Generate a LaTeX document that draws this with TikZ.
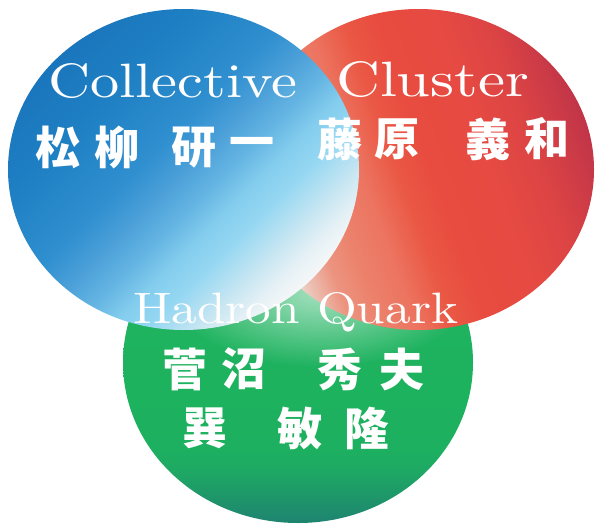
\documentclass[tikz,border=0pt]{standalone}
\usepackage{fontspec}
\usepackage{graphicx}
\usetikzlibrary{fadings}
\newfontfamily\cjk{Noto Sans CJK JP}
% blue colours
\definecolor{b1}{HTML}{1A76BC}
\definecolor{b2}{HTML}{1F80C4}
\definecolor{b3}{HTML}{2F8FCF}
\definecolor{b4}{HTML}{4A9FD8}
\definecolor{b5}{HTML}{66B6E3}
\definecolor{b6}{HTML}{84CDEE}
\definecolor{b7}{HTML}{95D7F2}
\definecolor{b8}{HTML}{C4E5F2}
\definecolor{b9}{HTML}{E6F1F5}
\definecolor{b10}{HTML}{F5F7F8}
% red colours
\definecolor{r1}{HTML}{F2E4DE}
\definecolor{r2}{HTML}{ECD0C6}
\definecolor{r3}{HTML}{EC9480}
\definecolor{r4}{HTML}{EC826C}
\definecolor{r5}{HTML}{EC7460}
\definecolor{r6}{HTML}{EA5844}
\definecolor{r7}{HTML}{E84B3F}
\definecolor{r8}{HTML}{E64A42}
\definecolor{r9}{HTML}{DC4444}
\definecolor{r10}{HTML}{C23548}
% green colours
\definecolor{g1}{HTML}{1E8470}
\definecolor{g2}{HTML}{1E9A68}
\definecolor{g3}{HTML}{1EA864}
\definecolor{g4}{HTML}{1DB060}
\definecolor{g5}{HTML}{1DB25E}
\definecolor{g6}{HTML}{22B462}
\pgfdeclarehorizontalshading{blueS}{100bp}{color(0bp)=(b1); color(25bp)=(b1); color(35bp)=(b2); color(45bp)=(b3); color(50bp)=(b4); color(55bp)=(b5); color(59bp)=(b6); color(63bp)=(b7); color(68bp)=(b8); color(72bp)=(b9); color(75bp)=(b10); color(100bp)=(b10)}
\pgfdeclarehorizontalshading{redS}{100bp}{color(0bp)=(r1); color(25bp)=(r1); color(28bp)=(r2); color(33bp)=(r3); color(37bp)=(r4); color(42bp)=(r5); color(47bp)=(r6); color(52bp)=(r7); color(60bp)=(r8); color(67bp)=(r9); color(75bp)=(r10); color(100bp)=(r10)}
\pgfdeclareverticalshading{greenS}{100bp}{color(0bp)=(g1); color(25bp)=(g1); color(30bp)=(g2); color(33bp)=(g3); color(36.5bp)=(g4); color(45bp)=(g5); color(75bp)=(g6); color(100bp)=(g6)}
\tikzfading[name=glowfade, inner color=transparent!40, outer color=transparent!100]
\tikzset{
  latin/.style={text=white, inner sep=0pt, anchor=base west},
  kanji/.style={text=white, inner sep=0pt, font=\cjk\bfseries\fontsize{45}{45}\selectfont}
}
\begin{document}
\begin{tikzpicture}[x=1pt,y=-1pt]
\fill[white] (0,0) rectangle (596,524);
\useasboundingbox (0,0) rectangle (596,524);
% circles
\shade[shading=greenS] (298,362.5) ellipse [x radius=175, y radius=160.5];
\begin{scope}
  \clip (298,362.5) ellipse [x radius=175, y radius=160.5];
  \fill[white, path fading=glowfade] (320,292) ellipse [x radius=150, y radius=75];
\end{scope}
\shade[shading=redS, shading angle=20] (418.5,169.5) ellipse [x radius=175.5, y radius=160.5];
\shade[shading=blueS, shading angle=-45] (183.5,169.5) ellipse [x radius=175.5, y radius=160.5];
% latin labels
\node[latin] (tcol) at (48,97) {\resizebox{249pt}{34pt}{Collective}};
\node[latin] (tclu) at (336,97) {\resizebox{193pt}{35pt}{Cluster}};
\node[latin] (thad) at (133,323) {\resizebox{325pt}{31pt}{Hadron Quark}};
% names
\foreach \c/\x/\y [count=\i] in {松/58/147.5, 柳/117/147.5, 研/194/147.5, 一/252/147.5,
  藤/340/139, 原/397/139, 義/488/139, 和/547/139,
  菅/184.5/369, 沼/243.5/369, 秀/340/369, 夫/402/369,
  巽/205/428, 敏/300/428, 隆/366.5/428}
  \node[kanji] (k\i) at (\x,\y) {\c};
\end{tikzpicture}
\end{document}
